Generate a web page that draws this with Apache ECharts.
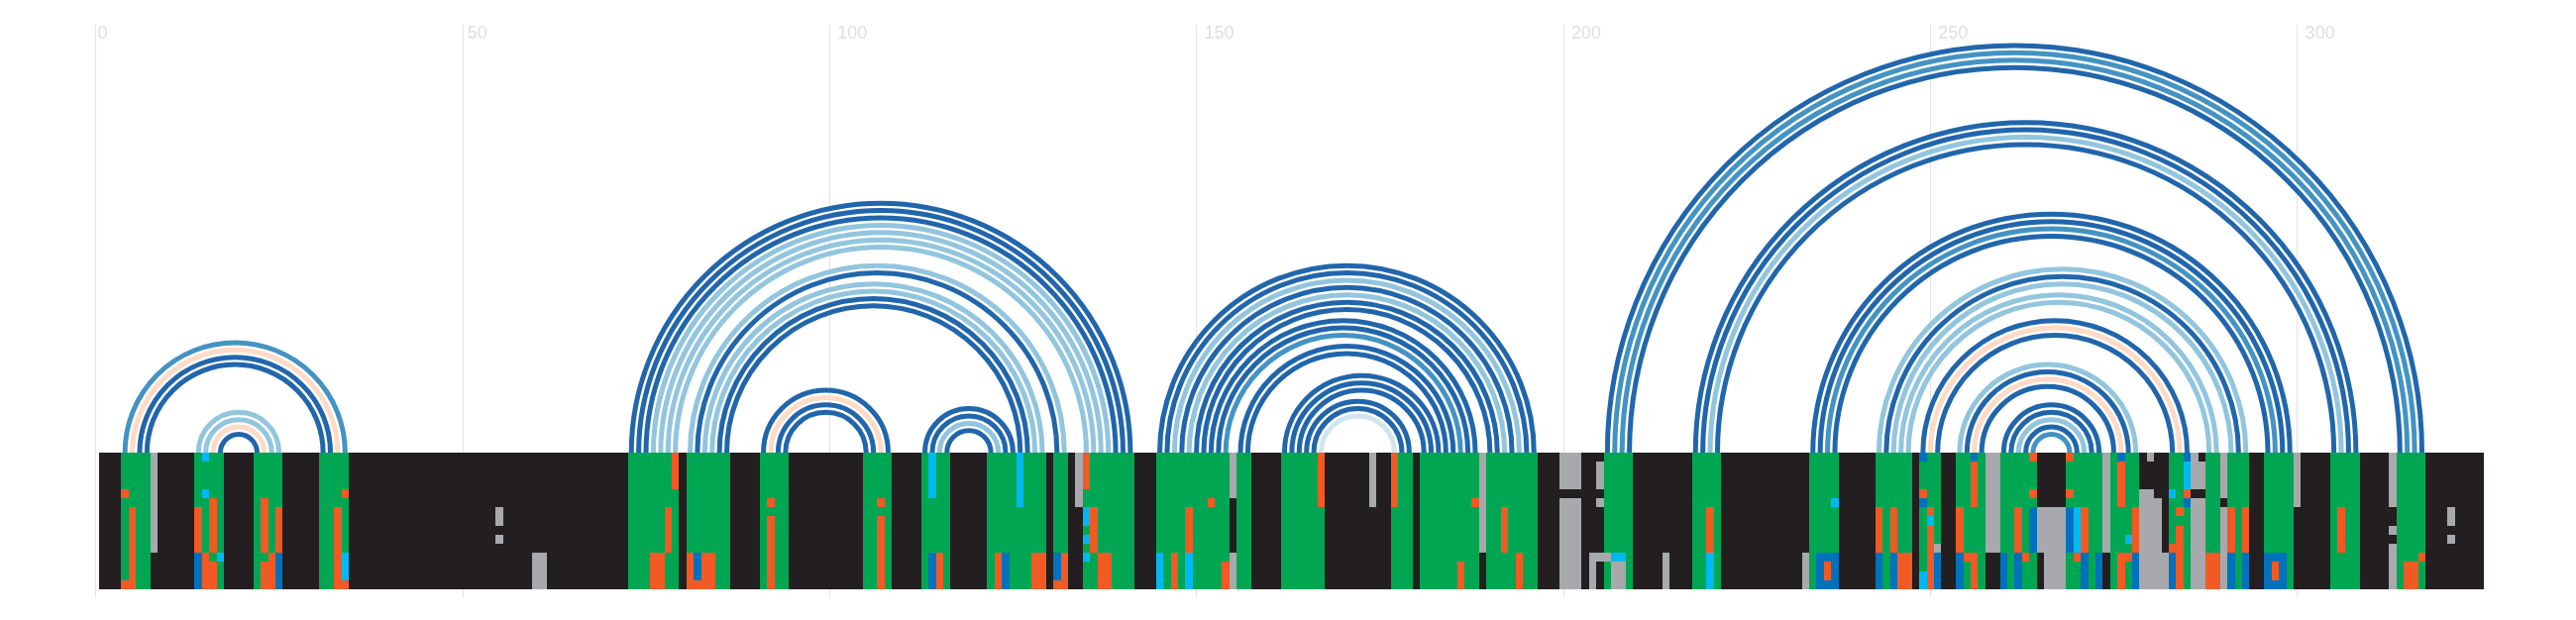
<!DOCTYPE html>
<html>
<head>
<meta charset="utf-8">
<style>html,body{margin:0;padding:0;background:#fff}#c{width:2600px;height:626px}</style>
<script src="https://cdn.jsdelivr.net/npm/echarts@6/dist/echarts.min.js"></script>
</head>
<body>
<div id="c"></div>
<script>
const columnCount = 325;
const rowCount = 15;

// Alignment cells, 0-based: [firstColumn, lastColumn, firstRow, lastRow]
const greenBlocks = [[3,6],[13,16],[21,24],[30,33],[72,78],[80,85],[90,93],[104,107],[112,115],[121,128],[130,131],[134,140],[144,153],[155,156],[161,166],[176,178],[180,187],[189,195],[205,208],[217,220],[233,236],[242,246],[248,250],[253,256],[259,263],[268,272],[274,277],[282,284],[287,288],[290,292],[295,298],[304,307],[313,316]];
const grayRuns = [[7,7,0,10],[54,54,6,7],[54,54,9,9],[59,60,11,14],[133,133,0,5],[154,154,0,4],[154,154,11,14],[173,173,0,5],[188,188,0,10],[199,201,0,3],[199,201,5,14],[204,204,1,3],[204,204,5,5],[203,205,11,11],[203,203,12,14],[206,207,12,14],[213,213,11,14],[232,232,11,14],[250,250,10,10],[257,258,0,10],[264,267,6,10],[265,267,11,14],[273,273,0,10],[278,278,4,14],[279,279,0,0],[279,279,4,14],[280,280,5,14],[281,281,11,14],[285,285,0,3],[286,286,1,3],[285,286,5,14],[289,289,0,4],[289,289,6,14],[299,299,0,5],[312,312,0,5],[312,312,8,8],[312,312,10,14],[320,320,6,7],[320,320,9,9]];
const darkBlueRuns = [[13,13,11,14],[24,24,11,14],[81,81,11,13],[113,113,11,14],[123,123,11,14],[130,130,11,13],[234,236,11,14],[242,242,11,14],[244,244,11,14],[248,248,0,0],[248,248,5,5],[250,250,11,14],[253,253,11,14],[255,255,0,0],[259,259,11,14],[261,261,11,14],[263,263,6,10],[268,268,6,10],[270,270,11,14],[272,272,11,14],[275,275,0,0],[277,277,11,14],[282,282,11,14],[284,284,0,0],[284,284,5,5],[290,290,11,14],[292,292,11,14],[295,297,11,14]];
const lightBlueRuns = [[14,14,0,0],[14,14,4,4],[16,16,11,11],[33,33,11,13],[113,113,0,4],[125,125,0,5],[134,134,6,7],[134,134,9,9],[134,134,11,11],[144,144,11,14],[148,148,11,14],[206,207,11,11],[219,219,11,14],[236,236,5,5],[248,248,13,14],[249,249,7,7],[269,269,6,10],[276,276,9,9],[282,282,4,4],[284,284,1,3]];
const orangeRuns = [[3,3,4,4],[3,3,14,14],[4,4,6,14],[13,13,6,10],[14,14,11,14],[15,15,5,10],[15,15,12,14],[22,22,5,10],[22,22,12,14],[23,23,11,14],[24,24,6,10],[32,32,6,14],[33,33,4,4],[33,33,14,14],[75,76,11,14],[77,77,6,10],[78,78,0,3],[80,80,11,14],[81,81,14,14],[82,83,11,14],[91,91,5,5],[91,91,7,14],[106,106,5,5],[106,106,7,14],[114,114,11,14],[122,122,11,14],[127,128,11,14],[131,131,11,14],[130,130,14,14],[134,134,0,3],[135,135,6,10],[136,137,11,14],[146,146,11,14],[148,148,6,10],[151,151,5,5],[153,153,12,14],[166,166,0,5],[176,176,0,5],[185,185,12,14],[187,187,5,5],[191,191,6,10],[193,193,11,14],[219,219,6,10],[235,235,12,13],[242,242,6,10],[244,244,6,10],[245,246,11,14],[248,248,4,4],[249,249,6,6],[249,249,8,14],[253,253,6,10],[254,254,11,11],[255,255,1,5],[255,255,11,14],[261,261,6,10],[262,262,11,11],[263,263,0,0],[263,263,4,4],[268,268,0,0],[268,268,4,4],[269,269,11,11],[270,270,6,10],[275,275,1,5],[275,275,11,14],[276,276,11,11],[277,277,6,10],[282,283,10,10],[283,283,6,6],[283,283,8,14],[284,284,4,4],[287,288,11,14],[290,290,6,10],[292,292,6,10],[296,296,12,13],[305,305,6,10],[314,315,12,14],[316,316,11,11]];

// Base pairs, 0-based columns: [leftColumn, rightColumn]
const darkArcs = [[5,31],[6,30],[16,21],[72,140],[73,139],[74,138],[81,130],[84,126],[85,125],[90,107],[92,105],[93,104],[112,124],[113,123],[115,121],[144,195],[145,194],[147,192],[149,190],[150,189],[151,187],[152,186],[155,184],[156,183],[161,182],[162,181],[163,180],[164,178],[165,177],[205,316],[208,313],[217,307],[218,306],[220,304],[233,298],[234,297],[236,295],[243,291],[248,284],[250,282],[254,276],[256,274],[259,272],[260,271],[262,269]];
const midArcs = [[3,33],[153,185],[206,315],[207,314],[235,296],[263,268]];
const lightArcs = [[13,24],[14,23],[75,137],[76,136],[77,135],[78,134],[80,131],[82,128],[83,127],[114,122],[146,193],[148,191],[219,305],[242,292],[244,290],[245,288],[246,287],[253,277],[261,270]];
const peachArcs = [[4,32],[15,22],[91,106],[249,283],[255,275]];
const paleArcs = [[166,176]];

const tickStep = 50;

const cellColors = {black:'#231f20', green:'#00a651', gray:'#a7a9ac', dark:'#0071bc', light:'#00b9f2', orange:'#f15a24'};
const arcColors = {dark:'#2166ac', mid:'#4393c3', light:'#92c5de', peach:'#fddbc7', pale:'#d1e5f0'};

const grid = [];
for (let r = 0; r < rowCount; r++) grid.push(new Array(columnCount).fill('black'));
function paint(runs, name) {
  runs.forEach(function (u) {
    for (let r = u[2]; r <= u[3]; r++) for (let c = u[0]; c <= u[1]; c++) grid[r][c] = name;
  });
}
paint(greenBlocks.map(function (b) { return [b[0], b[1], 0, rowCount - 1]; }), 'green');
paint(grayRuns, 'gray');
paint(darkBlueRuns, 'dark');
paint(lightBlueRuns, 'light');
paint(orangeRuns, 'orange');

const cellData = [];
for (let r = 0; r < rowCount; r++) for (let c = 0; c < columnCount; c++) {
  cellData.push({value: [c + 1, r], itemStyle: {color: cellColors[grid[r][c]]}});
}
function arcSeries(pairs, color) {
  return {
    type: 'custom', coordinateSystem: 'cartesian2d', silent: true, clip: false, animation: false, z: 2,
    data: pairs.map(function (p) { return [p[0] + 1, p[1] + 1]; }),
    encode: {x: [0, 1]},
    renderItem: function (params, api) {
      const a = api.coord([api.value(0), 0]);
      const b = api.coord([api.value(1), 0]);
      return {
        type: 'arc',
        shape: {cx: (a[0] + b[0]) / 2, cy: a[1], r: (b[0] - a[0]) / 2, startAngle: Math.PI, endAngle: 2 * Math.PI, clockwise: true},
        style: {fill: 'none', stroke: color, lineWidth: 5}
      };
    }
  };
}
const labelFont = {color: '#dedede', fontSize: 18, fontFamily: '"Liberation Sans", Arial, sans-serif'};
const chart = echarts.init(document.getElementById('c'), null, {renderer: 'canvas'});
chart.setOption({
  animation: false,
  backgroundColor: '#ffffff',
  grid: {left: 96.5, top: 25, width: 2414.7, bottom: 23, containLabel: false},
  xAxis: {
    type: 'value', position: 'top', min: 0, max: 326, interval: tickStep,
    axisLine: {show: false}, axisTick: {show: false},
    splitLine: {show: true, showMaxLine: false, lineStyle: {color: '#e4e4e4', width: 1}},
    axisLabel: {
      inside: true, margin: 0, align: 'left', verticalAlign: 'top', showMinLabel: true, showMaxLabel: false,
      color: labelFont.color, fontSize: labelFont.fontSize, fontFamily: labelFont.fontFamily,
      formatter: function (v) { return '{d' + String(v).length + '|' + v + '}'; },
      rich: {
        d1: Object.assign({padding: [0, 0, 0, 2]}, labelFont),
        d2: Object.assign({padding: [0, 0, 0, 5]}, labelFont),
        d3: Object.assign({padding: [0, 0, 0, 8]}, labelFont)
      }
    }
  },
  yAxis: {type: 'value', inverse: true, min: -46.96, max: 15.87, show: false, splitLine: {show: false}},
  series: [
    arcSeries(paleArcs, arcColors.pale),
    arcSeries(peachArcs, arcColors.peach),
    arcSeries(lightArcs, arcColors.light),
    arcSeries(midArcs, arcColors.mid),
    arcSeries(darkArcs, arcColors.dark),
    {
      type: 'custom', coordinateSystem: 'cartesian2d', silent: true, clip: false, animation: false, z: 3,
      data: cellData,
      encode: {x: 0, y: 1},
      renderItem: function (params, api) {
        const p0 = api.coord([api.value(0) - 0.5, api.value(1)]);
        const p1 = api.coord([api.value(0) + 0.5, api.value(1) + 1]);
        const x0 = Math.round(p0[0]), x1 = Math.round(p1[0]), y0 = Math.round(p0[1]), y1 = Math.round(p1[1]);
        return {type: 'rect', shape: {x: x0, y: y0, width: x1 - x0, height: y1 - y0}, style: {fill: api.visual('color')}};
      }
    }
  ]
});
</script>
</body>
</html>
